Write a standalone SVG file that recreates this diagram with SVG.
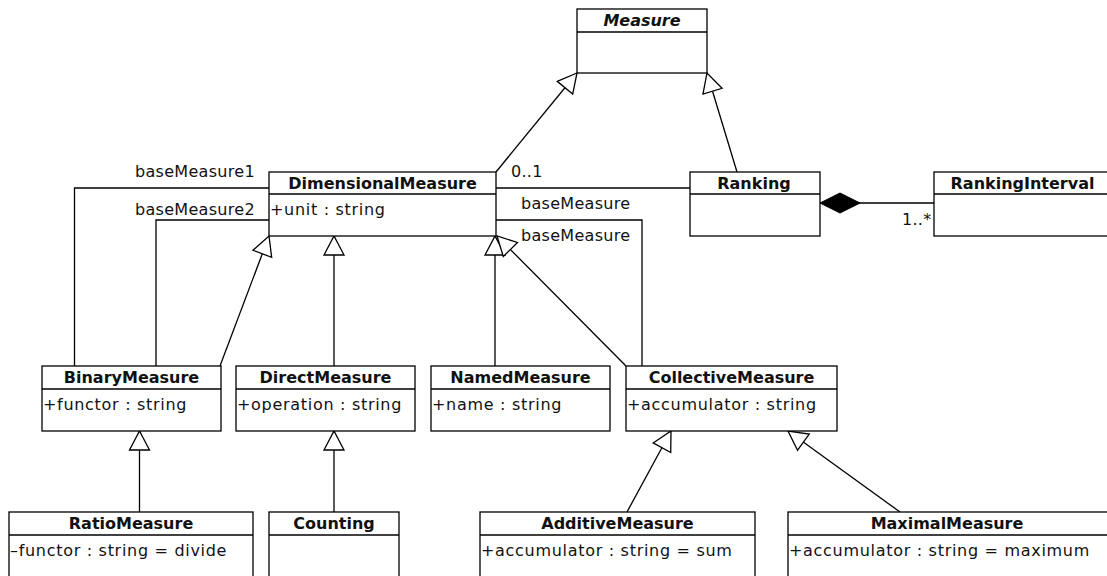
<svg xmlns="http://www.w3.org/2000/svg" width="1107" height="576" viewBox="0 0 1107 576">
  <style>
    .box { fill: #fff; stroke: #000; stroke-width: 1.3; }
    .sep { stroke: #000; stroke-width: 1.3; }
    .name { font-family: "DejaVu Sans", "Liberation Sans", sans-serif; font-size: 16px; font-weight: bold; text-anchor: middle; fill: #111; }
    .abstract { font-style: italic; }
    .attr { font-family: "DejaVu Sans", "Liberation Sans", sans-serif; font-size: 16px; letter-spacing: 0.7px; fill: #111; }
    .role { font-family: "DejaVu Sans", "Liberation Sans", sans-serif; font-size: 16px; letter-spacing: 0.3px; fill: #111; }
    .edge { fill: none; stroke: #000; stroke-width: 1.3; }
    .gen { marker-end: url(#hollow); }
  </style>
  <defs>
    <!-- hollow triangle for generalization -->
    <marker id="hollow" viewBox="-2 -2 23 24" markerWidth="23" markerHeight="24" refX="19" refY="10" orient="auto" markerUnits="userSpaceOnUse" overflow="visible">
      <path d="M0,0 L19,10 L0,20 Z" fill="#fff" stroke="#000" stroke-width="1.3" stroke-linejoin="miter"/>
    </marker>
    <!-- filled diamond for composition -->
    <marker id="diamond" viewBox="-2 -12 44 24" markerWidth="44" markerHeight="24" refX="0" refY="0" orient="auto" markerUnits="userSpaceOnUse" overflow="visible">
      <path d="M0,0 L20,-10 L40,0 L20,10 Z" fill="#000" stroke="#000" stroke-width="1"/>
    </marker>
  </defs>

  <rect width="1107" height="576" fill="#fff"/>

  <!-- connectors -->
  <g id="connectors">
    <line class="edge gen" x1="496" y1="172" x2="577" y2="73"/>
    <line class="edge gen" x1="737" y1="172" x2="707" y2="73"/>
    <line class="edge gen" x1="220" y1="366" x2="269" y2="236"/>
    <line class="edge gen" x1="334" y1="366" x2="334" y2="236"/>
    <line class="edge gen" x1="495" y1="366" x2="495" y2="236"/>
    <line class="edge gen" x1="626" y1="366" x2="497" y2="236"/>
    <line class="edge gen" x1="139.5" y1="512" x2="139.5" y2="431"/>
    <line class="edge gen" x1="334" y1="512" x2="334" y2="431"/>
    <line class="edge gen" x1="627" y1="512" x2="671" y2="431"/>
    <line class="edge gen" x1="900" y1="512" x2="788" y2="431"/>
    <polyline class="edge" points="269,188 74.5,188 74.5,366"/>
    <polyline class="edge" points="269,220 156,220 156,366"/>
    <line class="edge" x1="496" y1="188" x2="690" y2="188"/>
    <polyline class="edge" points="496,220 642,220 642,366"/>
    <line class="edge" x1="820" y1="203" x2="934" y2="203" marker-start="url(#diamond)"/>
    <text class="role" x="135" y="177">baseMeasure1</text>
    <text class="role" x="135" y="215">baseMeasure2</text>
    <text class="role" x="511" y="177">0..1</text>
    <text class="role" x="521" y="209">baseMeasure</text>
    <text class="role" x="521" y="241">baseMeasure</text>
    <text class="role" x="902" y="225">1..*</text>
  </g>

  <g id="Measure">
    <rect class="box" x="577" y="9" width="130" height="64"/>
    <line class="sep" x1="577" y1="32" x2="707" y2="32"/>
    <text class="name abstract" x="642" y="26">Measure</text>
  </g>

  <g id="DimensionalMeasure">
    <rect class="box" x="269" y="172" width="227" height="64"/>
    <line class="sep" x1="269" y1="194" x2="496" y2="194"/>
    <text class="name" x="382.5" y="188.5">DimensionalMeasure</text>
    <text class="attr" x="270" y="214.5">+unit : string</text>
  </g>

  <g id="Ranking">
    <rect class="box" x="690" y="172" width="130" height="64"/>
    <line class="sep" x1="690" y1="194" x2="820" y2="194"/>
    <text class="name" x="754" y="188.5">Ranking</text>
  </g>

  <g id="RankingInterval">
    <rect class="box" x="934" y="172" width="190" height="64"/>
    <line class="sep" x1="934" y1="194" x2="1124" y2="194"/>
    <text class="name" x="1022.5" y="188.5">RankingInterval</text>
  </g>

  <g id="BinaryMeasure">
    <rect class="box" x="42" y="366" width="179" height="65"/>
    <line class="sep" x1="42" y1="389" x2="221" y2="389"/>
    <text class="name" x="131.5" y="383">BinaryMeasure</text>
    <text class="attr" x="43" y="410">+functor : string</text>
  </g>

  <g id="DirectMeasure">
    <rect class="box" x="236" y="366" width="179" height="65"/>
    <line class="sep" x1="236" y1="389" x2="415" y2="389"/>
    <text class="name" x="325.5" y="383">DirectMeasure</text>
    <text class="attr" x="237" y="410">+operation : string</text>
  </g>

  <g id="NamedMeasure">
    <rect class="box" x="431" y="366" width="179" height="65"/>
    <line class="sep" x1="431" y1="389" x2="610" y2="389"/>
    <text class="name" x="520.5" y="383">NamedMeasure</text>
    <text class="attr" x="432" y="410">+name : string</text>
  </g>

  <g id="CollectiveMeasure">
    <rect class="box" x="626" y="366" width="211" height="65"/>
    <line class="sep" x1="626" y1="389" x2="837" y2="389"/>
    <text class="name" x="731.5" y="383">CollectiveMeasure</text>
    <text class="attr" x="627" y="410">+accumulator : string</text>
  </g>

  <g id="RatioMeasure">
    <rect class="box" x="9" y="512" width="244" height="80"/>
    <line class="sep" x1="9" y1="535" x2="253" y2="535"/>
    <text class="name" x="131" y="529">RatioMeasure</text>
    <text class="attr" x="10" y="555.5">–functor : string = divide</text>
  </g>

  <g id="Counting">
    <rect class="box" x="269" y="512" width="130" height="80"/>
    <line class="sep" x1="269" y1="535" x2="399" y2="535"/>
    <text class="name" x="334" y="529">Counting</text>
  </g>

  <g id="AdditiveMeasure">
    <rect class="box" x="480" y="512" width="275" height="80"/>
    <line class="sep" x1="480" y1="535" x2="755" y2="535"/>
    <text class="name" x="617.5" y="529">AdditiveMeasure</text>
    <text class="attr" x="481" y="555.5">+accumulator : string = sum</text>
  </g>

  <g id="MaximalMeasure">
    <rect class="box" x="788" y="512" width="330" height="80"/>
    <line class="sep" x1="788" y1="535" x2="1118" y2="535"/>
    <text class="name" x="947" y="529">MaximalMeasure</text>
    <text class="attr" x="789" y="555.5">+accumulator : string = maximum</text>
  </g>
</svg>
